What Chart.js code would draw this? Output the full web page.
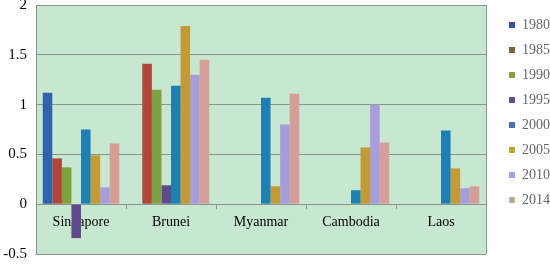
<!DOCTYPE html>
<html>
<head>
<meta charset="utf-8">
<script src="https://cdn.jsdelivr.net/npm/chart.js@4.4.1/dist/chart.umd.min.js"></script>
<style>
  html, body { margin: 0; padding: 0; background: #fff; }
  #wrap { width: 550px; height: 264px; position: relative; }
</style>
</head>
<body>
<div id="wrap"><canvas id="chart"></canvas></div>
<script>
// Data
const countries = ["Singapore", "Brunei", "Myanmar", "Cambodia", "Laos"];
const years = ["1980", "1985", "1990", "1995", "2000", "2005", "2010", "2014"];
const v1980 = [1.12, null, null, null, null];
const v1985 = [0.46, 1.41, null, null, null];
const v1990 = [0.37, 1.15, null, null, null];
const v1995 = [-0.34, 0.19, null, null, null];
const v2000 = [0.75, 1.19, 1.07, 0.14, 0.74];
const v2005 = [0.49, 1.79, 0.18, 0.57, 0.36];
const v2010 = [0.17, 1.30, 0.80, 1.00, 0.16];
const v2014 = [0.61, 1.45, 1.11, 0.62, 0.18];
const yTicks = [-0.5, 0, 0.5, 1, 1.5, 2];

const seriesValues = [v1980, v1985, v1990, v1995, v2000, v2005, v2010, v2014];
const barColors = ["#2F62AB", "#B0463A", "#7EA03E", "#5F4A8C", "#1F7FB0", "#C29A36", "#A79DD9", "#D59E96"];
const legendColors = ["#3C4FA8", "#7A6345", "#8AA040", "#5E4E8E", "#4A6FB8", "#B8A830", "#A0A4D8", "#C0A890"];

const serif = "'Liberation Serif', 'Times New Roman', serif";
const gridColor = "#8A948C";

// green plot background + right frame line
const plotBg = {
  id: "plotBg",
  beforeDraw(chart) {
    const { ctx, chartArea: a } = chart;
    ctx.save();
    ctx.fillStyle = "#C7E7D1";
    ctx.fillRect(a.left, a.top, a.right - a.left, a.bottom - a.top);
    ctx.restore();
  },
  afterDraw(chart) {
    const { ctx, chartArea: a } = chart;
    ctx.save();
    ctx.strokeStyle = gridColor;
    ctx.lineWidth = 1;
    ctx.beginPath();
    ctx.moveTo(Math.round(a.right) + 0.5, a.top);
    ctx.lineTo(Math.round(a.right) + 0.5, a.bottom);
    ctx.stroke();
    ctx.restore();
  }
};

const datasets = years.map((y, i) => ({
  label: y,
  data: seriesValues[i],
  backgroundColor: barColors[i],
  borderWidth: 0,
  categoryPercentage: 0.85,
  barPercentage: 1.0
}));

new Chart(document.getElementById("chart"), {
  type: "bar",
  data: { labels: countries, datasets },
  plugins: [plotBg],
  options: {
    responsive: true,
    maintainAspectRatio: false,
    animation: false,
    layout: { padding: { top: 5, bottom: 10, left: 0, right: 0 } },
    plugins: {
      tooltip: { enabled: false },
      legend: {
        position: "right",
        align: "start",
        maxWidth: 52,
        title: { display: true, text: " ", font: { size: 2, lineHeight: 1 }, padding: 0 },
        labels: {
          boxWidth: 6,
          boxHeight: 6,
          padding: 11,
          color: "#111",
          font: { family: serif, size: 14 },
          generateLabels(chart) {
            return years.map((y, i) => ({
              text: y,
              fillStyle: legendColors[i],
              strokeStyle: legendColors[i],
              lineWidth: 0,
              datasetIndex: i,
              hidden: false
            }));
          }
        }
      }
    },
    scales: {
      x: {
        position: { y: 0 },
        grid: { drawOnChartArea: false, drawTicks: true, tickLength: 4, color: gridColor },
        border: { color: gridColor, width: 1 },
        ticks: { color: "#000", font: { family: serif, size: 14 }, padding: 6 }
      },
      y: {
        min: -0.5,
        max: 2,
        afterBuildTicks(scale) { scale.ticks = yTicks.map(v => ({ value: v })); },
        afterFit(scale) { scale.width = 36; scale.paddingTop = 0; scale.paddingBottom = 0; },
        grid: { color: gridColor, drawTicks: false },
        border: { color: gridColor, width: 1 },
        ticks: {
          color: "#000",
          font: { family: serif, size: 15 },
          padding: 9,
          callback: v => String(v)
        }
      },
      gap: {
        position: "right",
        display: true,
        grid: { display: false },
        border: { display: false },
        ticks: { display: false },
        afterFit(scale) { scale.width = 12; }
      }
    }
  }
});
</script>
</body>
</html>
